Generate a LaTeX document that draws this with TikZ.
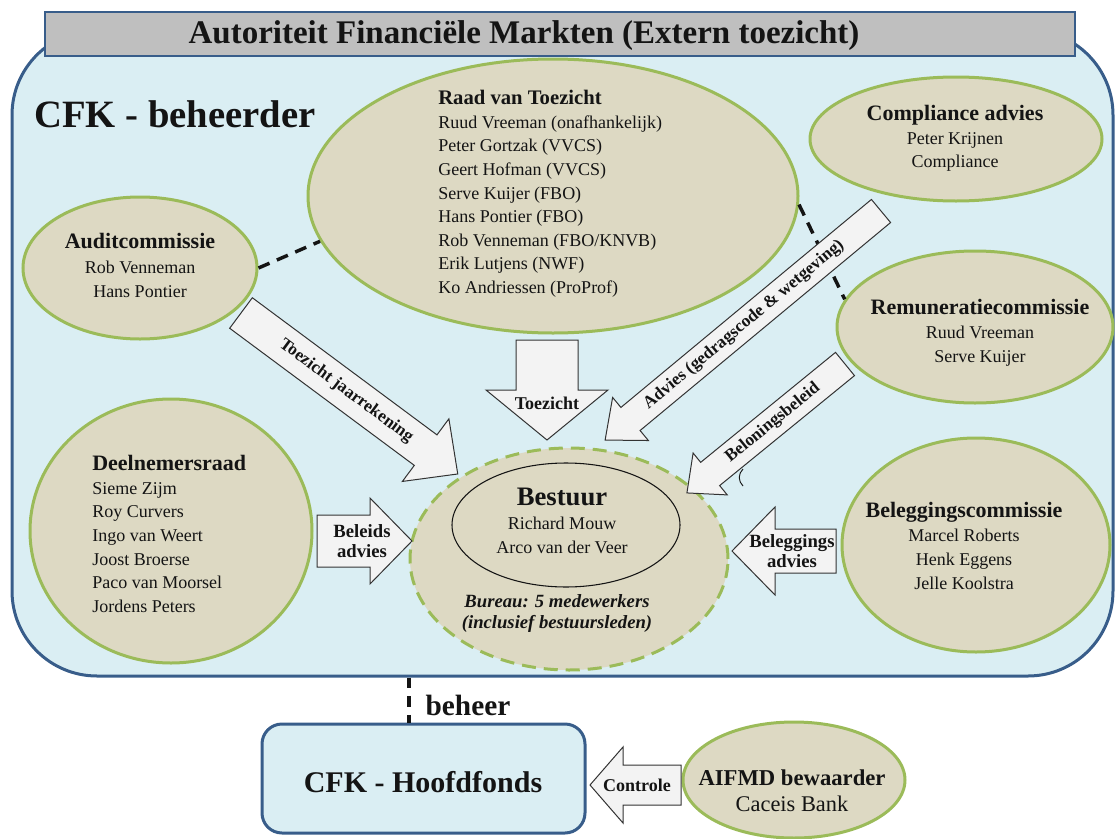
\documentclass[tikz,border=0pt]{standalone}
\usepackage{fontspec}
\setmainfont{Liberation Serif}
\usetikzlibrary{shapes.geometric}
\definecolor{boxblue}{HTML}{DAEEF3}
\definecolor{edgeblue}{HTML}{385D8A}
\definecolor{tanfill}{HTML}{DDD9C3}
\definecolor{leaf}{HTML}{9BBB59}
\definecolor{titlegray}{HTML}{BFBFBF}
\definecolor{arrfill}{HTML}{F3F3F3}
\definecolor{ink}{HTML}{141414}
\newcommand{\fsz}[2]{\fontsize{#1}{#2}\selectfont}
% #1 tail point, #2 angle, #3 length, #4 half body, #5 half head, #6 head length, #7 name, #8 text position along
\newcommand{\blockarrow}[8]{%
  \begin{scope}[shift={#1}, rotate=#2]
    \draw[blockarrowstyle] (0,-#4) -- ({#3-#6},-#4) -- ({#3-#6},-#5) -- (#3,0)
      -- ({#3-#6},#5) -- ({#3-#6},#4) -- (0,#4) -- cycle;
    \coordinate (#7) at (#8,0);
  \end{scope}}
\tikzset{
  committee/.style={ellipse, draw=leaf, fill=tanfill, line width=2.25pt, inner sep=0},
  txt/.style={inner sep=0, text=ink, font=\fsz{13.5pt}{18pt}},
  blockarrowstyle/.style={draw=black!80, fill=arrfill, line width=0.75pt, line join=miter},
  blackdash/.style={draw=ink, line width=2.6pt, dash pattern=on 9pt off 6pt},
  arrtext/.style={inner sep=0, text=ink, font=\bfseries\fsz{13pt}{15pt}},
  btext/.style={inner sep=0, text=ink, font=\bfseries\fsz{14pt}{15.5pt}, align=center},
}
\begin{document}
\begin{tikzpicture}[x=0.75pt, y=-0.75pt]
\useasboundingbox (0,0) rectangle (1115,839);

% outer box CFK - beheerder
\node[draw=edgeblue, fill=boxblue, line width=2.25pt, rounded corners=63.75pt,
      minimum width=825.75pt, minimum height=484.5pt, inner sep=0] (beheerder) at (562.5,353) {};

% title bar
\node[draw=edgeblue, fill=titlegray, line width=1.5pt, minimum width=772.5pt,
      minimum height=33pt, inner sep=0] (afmbar) at (560,34) {};
\node[txt, font=\bfseries\fsz{24.75pt}{28pt}] (afm) at (524,36)
  {Autoriteit Financiële Markten (Extern toezicht)};

\node[txt, font=\bfseries\fsz{29pt}{32pt}] (beheerderlabel) at (175,114) {CFK - beheerder};

% ellipses
\node[committee, minimum width=367.5pt, minimum height=205.5pt] (raad) at (553,196) {};
\node[committee, minimum width=219pt, minimum height=93pt] (compl) at (956,139) {};
\node[committee, minimum width=175.5pt, minimum height=106.5pt] (audit) at (140,268) {};
\node[committee, minimum width=207pt, minimum height=114pt] (remun) at (975,327) {};
\node[committee, minimum width=211.5pt, minimum height=198pt] (deeln) at (171,531) {};
\node[committee, minimum width=201pt, minimum height=160.5pt] (beleg) at (976,545) {};
\node[ellipse, fill=tanfill, draw=leaf, line width=2.25pt, dash pattern=on 10.5pt off 6pt,
      minimum width=238.5pt, minimum height=166.5pt, inner sep=0] (bureau) at (569,559) {};
\node[ellipse, fill=tanfill, draw=ink, line width=0.8pt, minimum width=171pt,
      minimum height=93pt, inner sep=0] (bestuur) at (566,525) {};
\node[committee, minimum width=166.5pt, minimum height=87pt] (aifmd) at (794,780) {};

% CFK - Hoofdfonds box
\node[draw=edgeblue, fill=boxblue, line width=2.25pt, rounded corners=15pt,
      minimum width=242.25pt, minimum height=81.75pt, inner sep=0] (hoofd) at (423.5,778.5) {};

% texts
\node[txt, anchor=north west, align=left, font=\fsz{13.5pt}{17.7pt}] (raadtxt) at (438,90)
  {{\bfseries\fsz{15.5pt}{17.7pt}Raad van Toezicht}\\
   Ruud Vreeman  (onafhankelijk)\\
   Peter Gortzak  (VVCS)\\
   Geert Hofman  (VVCS)\\
   Serve Kuijer  (FBO)\\
   Hans Pontier  (FBO)\\
   Rob Venneman  (FBO/KNVB)\\
   Erik Lutjens  (NWF)\\
   Ko Andriessen  (ProProf)};
\node[txt, anchor=north, align=center, font=\fsz{13.5pt}{17.6pt}] (compltxt) at (955,105)
  {{\bfseries\fsz{16.5pt}{17.6pt}Compliance advies}\\Peter Krijnen\\Compliance};
\node[txt, anchor=north, align=center, font=\fsz{13.5pt}{18.4pt}] (audittxt) at (140,233)
  {{\bfseries\fsz{16.5pt}{18.4pt}Auditcommissie}\\Rob Venneman\\Hans Pontier};
\node[txt, anchor=north, align=center, font=\fsz{13.5pt}{18pt}] (remuntxt) at (980,299)
  {{\bfseries\fsz{16.5pt}{18pt}Remuneratiecommissie}\\Ruud Vreeman\\Serve Kuijer};
\node[txt, anchor=north west, align=left, font=\fsz{13.5pt}{17.75pt}] (deelntxt) at (92,455)
  {{\bfseries\fsz{16.5pt}{17.75pt}Deelnemersraad}\\Sieme Zijm\\Roy Curvers\\Ingo van Weert\\
   Joost Broerse\\Paco van Moorsel\\Jordens Peters};
\node[txt, anchor=north, align=center, font=\fsz{13.5pt}{18pt}] (belegtxt) at (964,502)
  {{\bfseries\fsz{16.5pt}{18pt}Beleggingscommissie}\\Marcel Roberts\\Henk Eggens\\Jelle Koolstra};
\node[txt, anchor=north, align=center, font=\fsz{13.5pt}{18pt}] (bestuurtxt) at (562,488)
  {{\bfseries\fsz{20pt}{18pt}Bestuur}\\Richard Mouw\\Arco van der Veer};
\node[txt, anchor=north, align=center, font=\bfseries\itshape\fsz{14pt}{16.3pt}] (bureautxt) at (557,594)
  {Bureau: 5 medewerkers\\(inclusief bestuursleden)};
\node[txt, anchor=north, align=center, font=\fsz{16.8pt}{19.5pt}] (aifmdtxt) at (792,769)
  {{\bfseries\fsz{17pt}{19.5pt}AIFMD bewaarder}\\Caceis Bank};
\node[txt, font=\bfseries\fsz{22.5pt}{26pt}] (hoofdtxt) at (423,782) {CFK - Hoofdfonds};
\node[txt, font=\bfseries\fsz{22pt}{26pt}] (beheertxt) at (468,705) {beheer};

% dashed relations
\draw[blackdash] (audit.east) -- (raad.191);
\draw[blackdash] (raad.-2) -- (remun.168);
\coordinate (bhx) at (409,0);
\draw[blackdash, dash pattern=on 8pt off 6pt] (beheerder.south -| bhx) -- (hoofd.north -| bhx);

% block arrows
\blockarrow{(241,313)}{-36.6}{270}{19}{39}{40}{ajaar}{131}
\blockarrow{(881,211)}{-140.3}{358.6}{15}{28}{33}{aadvies}{178}
\blockarrow{(845,364)}{-140.8}{204}{15}{27}{30}{abelon}{93}
\blockarrow{(547,340)}{-90}{100}{31}{61}{50}{atoez}{63}
\blockarrow{(317,541)}{0}{95}{26}{43}{42}{abeleids}{45}
\blockarrow{(836,551)}{180}{104}{22}{44}{43}{abeleg}{44}
\blockarrow{(681,785)}{180}{91}{20}{38}{33}{acontr}{44}

\node[arrtext, rotate=-36.6] (tjaar) at (ajaar) {Toezicht jaarrekening};
\node[arrtext, rotate=39.7] (tadvies) at (aadvies) {Advies (gedragscode \& wetgeving)};
\node[arrtext, rotate=39.2] (tbelon) at (abelon) {Beloningsbeleid};
\node[btext, font=\bfseries\fsz{13.5pt}{16pt}] (ttoez) at (atoez) {Toezicht};
\node[btext] (tbeleids) at (abeleids) {Beleids\\advies};
\node[btext] (tbeleg) at (abeleg) {Beleggings\\advies};
\node[btext, font=\bfseries\fsz{13.5pt}{16pt}] (tcontr) at (acontr) {Controle};

% small mark near Beloningsbeleid arrow
\draw[ink, line width=0.7pt] (743,469) .. controls (738,474) and (738,481) .. (743,486);
\end{tikzpicture}
\end{document}
